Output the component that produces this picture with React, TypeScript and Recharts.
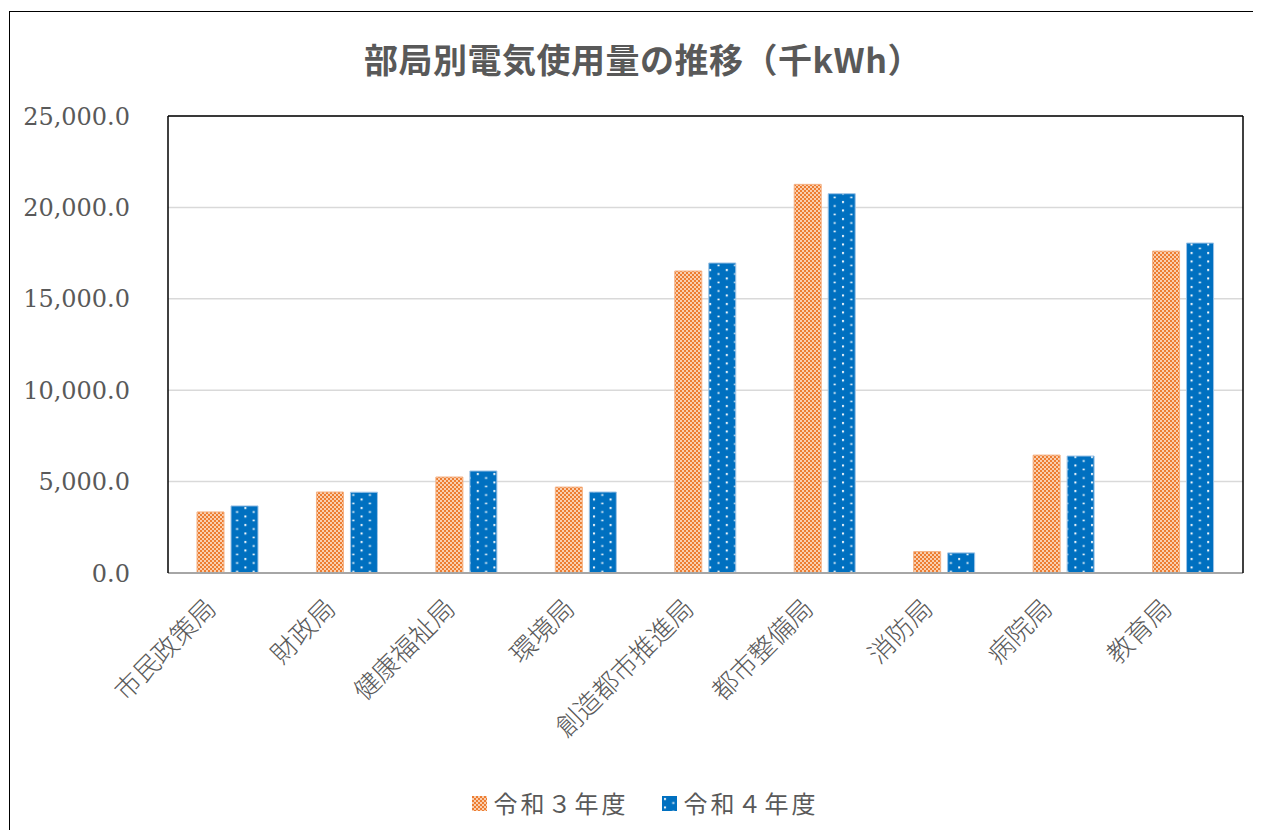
import { BarChart, Bar, XAxis, YAxis, CartesianGrid, Legend, ReferenceLine } from 'recharts'

const categories = ['市民政策局', '財政局', '健康福祉局', '環境局', '創造都市推進局', '都市整備局', '消防局', '病院局', '教育局']
const r3Values = [3340, 4430, 5250, 4700, 16520, 21260, 1170, 6450, 17610]
const r4Values = [3670, 4420, 5580, 4430, 16960, 20750, 1100, 6400, 18050]
const yTicks = [0, 5000, 10000, 15000, 20000, 25000]
const seriesNames = ['令和３年度', '令和４年度']

const data = categories.map((name, i) => ({ name, r3: r3Values[i], r4: r4Values[i] }))

const TEXT = '#595959'
const JP = '"Noto Sans CJK JP", sans-serif'

const fmt = (v: number) => v.toLocaleString('en-US', { minimumFractionDigits: 1, maximumFractionDigits: 1 })

function AngledTick({ x, y, payload }: any) {
  return (
    <g transform={`translate(${x - 10},${y + 37})`}>
      <text x={0} y={0} textAnchor="end" transform="rotate(-45)" fill={TEXT} fontSize={26} fontWeight={300} fontFamily={JP}>
        {payload.value}
      </text>
    </g>
  )
}

function LegendBox() {
  const items = [
    { name: seriesNames[0], fill: 'url(#orangeCheck)' },
    { name: seriesNames[1], fill: 'url(#blueDots)' },
  ]
  return (
    <div style={{ display: 'flex', justifyContent: 'center', gap: 33, paddingLeft: 22, fontFamily: JP, fontSize: 24, color: TEXT, lineHeight: '30px' }}>
      {items.map((it) => (
        <div key={it.name} style={{ display: 'flex', alignItems: 'center' }}>
          <svg width={15} height={15} style={{ marginRight: 7 }}>
            <rect x={0} y={0} width={15} height={15} fill={it.fill} />
          </svg>
          <span style={{ letterSpacing: 3 }}>{it.name}</span>
        </div>
      ))}
    </div>
  )
}

export default function App() {
  return (
    <div style={{ position: 'relative', marginLeft: 1, marginTop: 3, width: 1248, height: 818, border: '1px solid #000', borderBottom: 'none', background: '#fff' }}>
      <div style={{ position: 'absolute', top: 27, left: 0, right: 0, paddingLeft: 18, textAlign: 'center', fontFamily: JP, fontWeight: 'bold', fontSize: 34, letterSpacing: 0.5, color: TEXT, lineHeight: '40px', zIndex: 2 }}>
        部局別電気使用量の推移（千kWh）
      </div>
      <BarChart width={1248} height={816} data={data} margin={{ top: 104, right: 0, left: 0, bottom: 10 }} barGap={7} barSize={27}>
        <defs>
          <pattern id="orangeCheck" patternUnits="userSpaceOnUse" width={4} height={4}>
            <rect x={0} y={0} width={4} height={4} fill="#F9CFB0" />
            <rect x={0} y={0} width={2} height={2} fill="#ED7D31" />
            <rect x={2} y={2} width={2} height={2} fill="#ED7D31" />
          </pattern>
          <pattern id="blueDots" patternUnits="userSpaceOnUse" width={16.6} height={8.5}>
            <rect x={0} y={0} width={16.6} height={8.5} fill="#0070C0" />
            <rect x={2} y={2} width={2} height={2} fill="#fff" />
            <rect x={10.3} y={6.2} width={2} height={1.6} fill="#fff" />
          </pattern>
        </defs>
        <CartesianGrid vertical={false} stroke="#D9D9D9" strokeWidth={1.5} />
        <XAxis dataKey="name" interval={0} tickLine={false} tickSize={0} tickMargin={0} height={215} axisLine={{ stroke: '#A6A6A6', strokeWidth: 2 }} tick={<AngledTick />} />
        <YAxis
          width={158}
          domain={[0, 25000]}
          ticks={yTicks}
          tickFormatter={fmt}
          tickLine={false}
          tickSize={0}
          tickMargin={38}
          axisLine={{ stroke: '#000', strokeWidth: 1.5 }}
          tick={{ fill: TEXT, fontSize: 24, fontFamily: '"DejaVu Serif", serif' }}
        />
        <YAxis yAxisId="frame" orientation="right" width={15} domain={[0, 25000]} tick={false} tickLine={false} axisLine={{ stroke: '#000', strokeWidth: 1.5 }} />
        <ReferenceLine y={25000} stroke="#000" strokeWidth={1.5} />
        <Legend verticalAlign="bottom" content={<LegendBox />} wrapperStyle={{ height: 30 }} />
        <Bar dataKey="r3" name={seriesNames[0]} fill="url(#orangeCheck)" stroke="#F4B183" strokeWidth={1} isAnimationActive={false} />
        <Bar dataKey="r4" name={seriesNames[1]} fill="url(#blueDots)" stroke="#9DC3E6" strokeWidth={1} isAnimationActive={false} />
      </BarChart>
    </div>
  )
}
